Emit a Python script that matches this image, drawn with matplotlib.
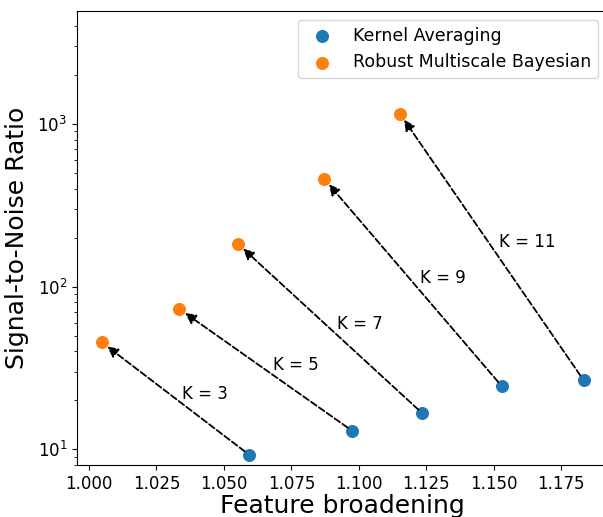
import numpy as np
import matplotlib
matplotlib.use("Agg")
import matplotlib.pyplot as plt

# kernel sizes and the two methods' (broadening, SNR) results
kernel_sizes = [3, 5, 7, 9, 11]
kernel_broadening = [1.0594, 1.0976, 1.1236, 1.1530, 1.1833]
kernel_snr = [9.23, 12.96, 16.6, 24.4, 26.6]
bayes_broadening = [1.0047, 1.0335, 1.0552, 1.0872, 1.1153]
bayes_snr = [45.5, 72.8, 183, 459, 1152]

fig = plt.figure(figsize=(6.03, 5.17), dpi=100)
ax = fig.add_axes([0.1277, 0.1006, 0.879, 0.878])

ax.scatter(kernel_broadening, kernel_snr, s=70, color="tab:blue",
           label="Kernel Averaging", zorder=3)
ax.scatter(bayes_broadening, bayes_snr, s=70, color="tab:orange",
           label="Robust Multiscale Bayesian", zorder=3)

for k, x0, y0, x1, y1 in zip(kernel_sizes, kernel_broadening, kernel_snr,
                             bayes_broadening, bayes_snr):
    ax.annotate("", xy=(x1, y1), xytext=(x0, y0),
                arrowprops=dict(arrowstyle="-|>", linestyle="--", color="black",
                                lw=1.3, mutation_scale=16, shrinkA=4, shrinkB=5))
    xm = (x0 + x1) / 2
    ym = np.sqrt(y0 * y1)
    ax.annotate(f"K = {k}", xy=(xm, ym), xytext=(5, -3),
                textcoords="offset points", ha="left", va="bottom", fontsize=12)

ax.set_yscale("log")
ax.set_xlim(0.99555, 1.192)
ax.set_ylim(8.0, 4950)
ax.set_xlabel("Feature broadening", fontsize=18, labelpad=1)
ax.set_ylabel("Signal-to-Noise Ratio", fontsize=18, labelpad=6)
ax.tick_params(labelsize=12)
ax.legend(loc="upper right", fontsize=12.5)

fig.savefig("out.png", dpi=100)
